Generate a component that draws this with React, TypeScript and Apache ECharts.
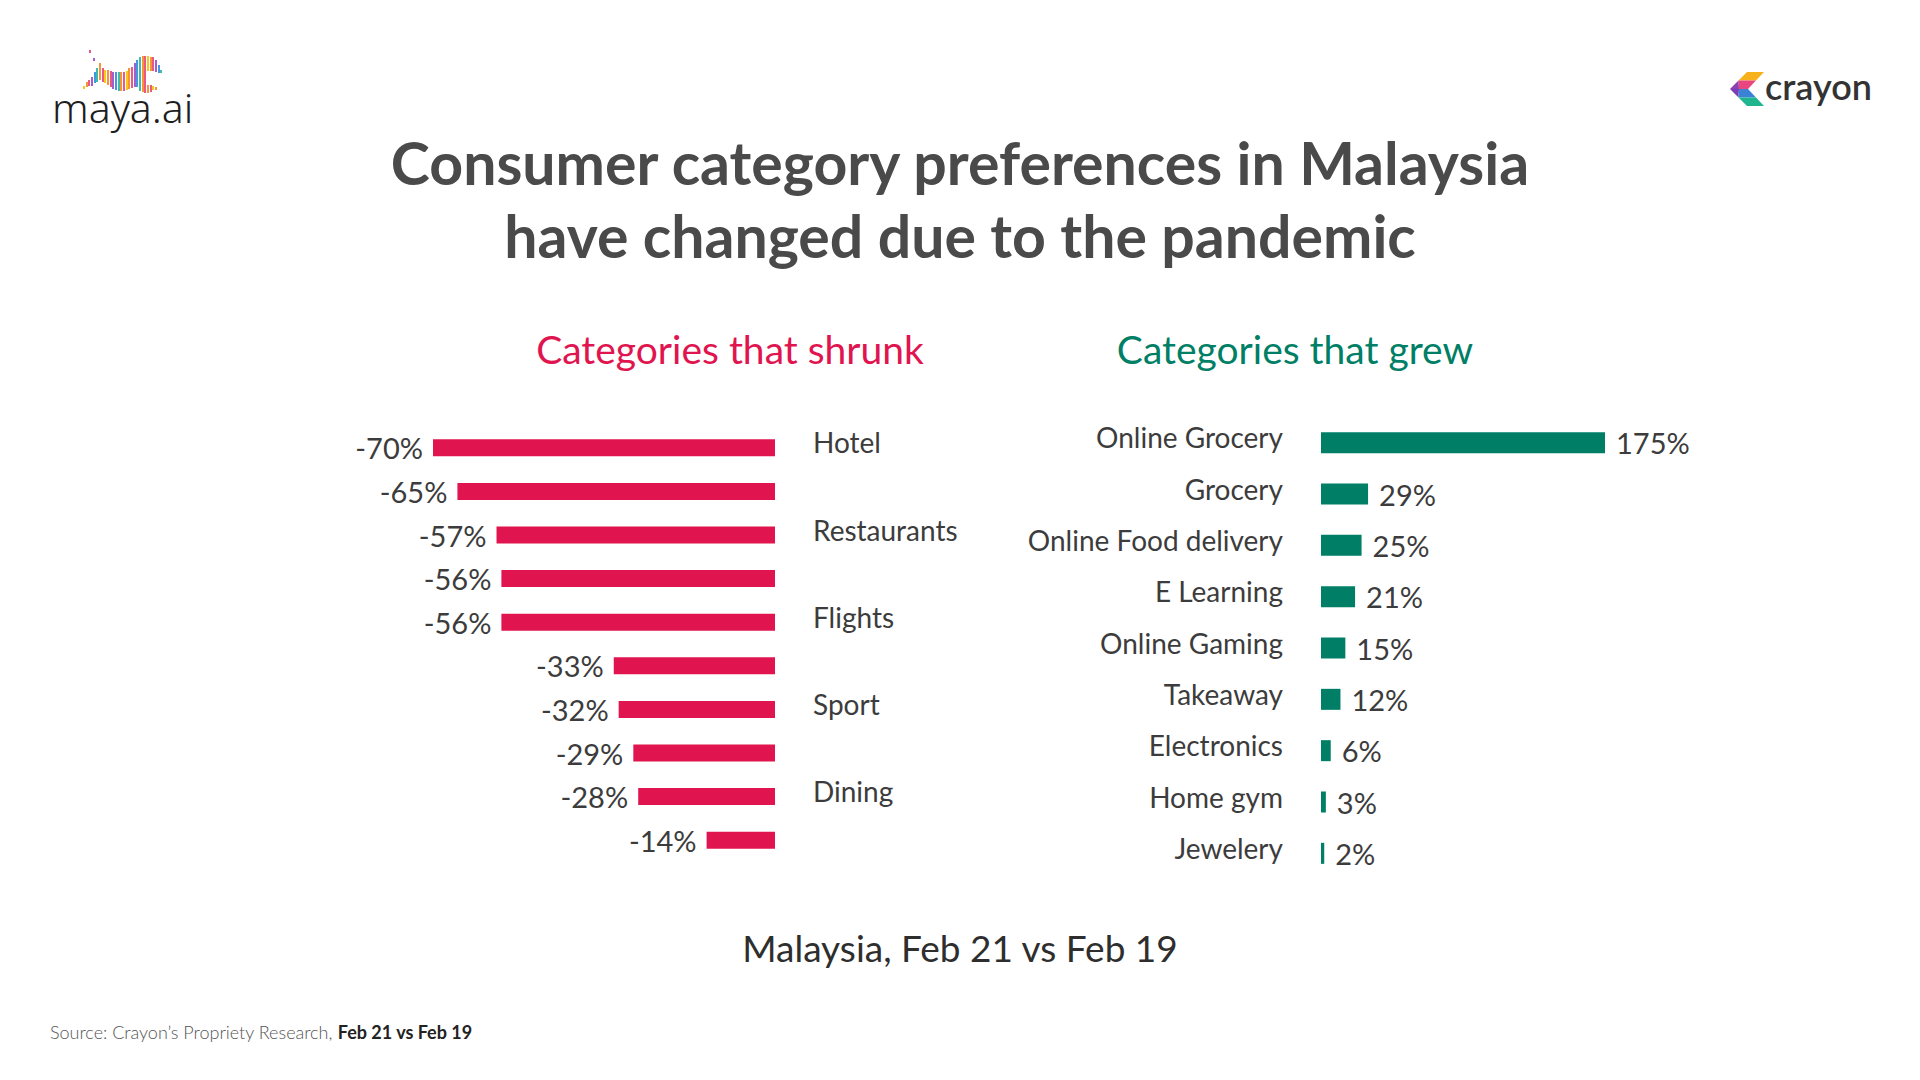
import React, { useEffect, useRef } from "react";
import * as echarts from "echarts";

// ---- data ----
const shrunkCategories = ["Hotel", "", "Restaurants", "", "Flights", "", "Sport", "", "Dining", ""];
const shrunkValues = [-70, -65, -57, -56, -56, -33, -32, -29, -28, -14];

const grewCategories = [
  "Online Grocery",
  "Grocery",
  "Online Food delivery",
  "E Learning",
  "Online Gaming",
  "Takeaway",
  "Electronics",
  "Home gym",
  "Jewelery",
];
const grewValues = [175, 29, 25, 21, 15, 12, 6, 3, 2];

const titleText = "Consumer category preferences in Malaysia\nhave changed due to the pandemic";
const shrunkTitle = "Categories that shrunk";
const grewTitle = "Categories that grew";
const footerText = "Malaysia, Feb 21 vs Feb 19";
const sourceLead = "Source: Crayon\u2019s Propriety Research, ";
const sourceBold = "Feb 21 vs Feb 19";

// maya.ai logo waveform strokes: [x, top, bottom]
const waveStrokes: [number, number, number][] = [
  [84, 86, 89], [87, 82, 87], [89, 80, 86], [92, 77, 86], [95, 72, 83],
  [97, 68, 82], [100, 63, 80], [103, 68, 82], [105, 70, 83], [108, 70, 85],
  [111, 71, 87], [113, 72, 89], [116, 72, 90], [119, 72, 91], [121, 72, 91],
  [124, 72, 91], [127, 71, 90], [129, 68, 89], [132, 67, 88], [135, 63, 87],
  [137, 60, 87], [140, 57, 91], [143, 56, 92], [145, 56, 93],
  [148, 56, 71], [151, 57, 71], [153, 57, 71], [156, 60, 72], [159, 65, 73], [161, 70, 73],
  [148, 85, 93], [151, 85, 92], [153, 86, 90], [156, 87, 90],
  [90, 50, 53], [94, 58, 61],
];
const waveColors = ["#f5c400", "#f58a1f", "#e8467c", "#9b4dca", "#2f8fd8", "#2bb3a3", "#f58a1f", "#e8467c"];

const FONT = "Lato, 'Open Sans', sans-serif";
const RED = "#e0154f";
const GREEN = "#007f66";
const TEXT = "#3c3c3c";

export default function App() {
  const ref = useRef<HTMLDivElement>(null);

  useEffect(() => {
    if (!ref.current) return;
    const chart = echarts.init(ref.current, undefined, { renderer: "svg" });

    const waveEls = waveStrokes.map((s, i) => ({
      type: "line",
      shape: { x1: s[0], y1: s[1], x2: s[0], y2: s[2] },
      style: { stroke: waveColors[i % waveColors.length], lineWidth: 1.8 },
      silent: true,
    }));

    const chevron = [
      { pts: [[1747, 72], [1764, 72], [1756, 80.5], [1738.5, 80.5]], c: "#f7b21b" },
      { pts: [[1738.5, 80.5], [1756, 80.5], [1748, 89], [1739, 89]], c: "#e9457e" },
      { pts: [[1730, 89], [1738.5, 80.5], [1739, 89]], c: "#8e3fb0" },
      { pts: [[1730, 89], [1739, 89], [1738.5, 97.5]], c: "#7a3fb8" },
      { pts: [[1739, 89], [1748, 89], [1756, 97.5], [1738.5, 97.5]], c: "#3b82d6" },
      { pts: [[1738.5, 97.5], [1756, 97.5], [1764, 106], [1747, 106]], c: "#1fb58f" },
    ].map((p) => ({
      type: "polygon",
      shape: { points: p.pts },
      style: { fill: p.c },
      silent: true,
    }));

    const catLabel = {
      interval: 0,
      margin: 38,
      fontSize: 28,
      color: TEXT,
      fontFamily: FONT,
      verticalAlign: "bottom",
      lineHeight: 11,
    };

    const option: any = {
      animation: false,
      backgroundColor: "#ffffff",
      textStyle: { fontFamily: FONT },
      graphic: [
        ...waveEls,
        {
          type: "text",
          x: 52,
          y: 107,
          style: {
            text: "maya.ai",
            fill: "#1e1e1e",
            fontSize: 41,
            fontFamily: "'Noto Sans', Lato, sans-serif",
            fontWeight: 300,
            verticalAlign: "middle",
            align: "left",
          },
        },
        ...chevron,
        {
          type: "text",
          x: 1765,
          y: 86,
          style: {
            text: "crayon",
            fill: "#333333",
            fontSize: 36,
            fontFamily: FONT,
            fontWeight: 600,
            verticalAlign: "middle",
            align: "left",
          },
        },
        {
          type: "text",
          x: 960,
          y: 199,
          style: {
            text: titleText,
            fill: "#4a4a4a",
            fontSize: 59,
            lineHeight: 73,
            fontFamily: FONT,
            fontWeight: "bold",
            align: "center",
            verticalAlign: "middle",
          },
        },
        {
          type: "text",
          x: 730,
          y: 349,
          style: {
            text: shrunkTitle,
            fill: RED,
            fontSize: 39,
            fontFamily: FONT,
            align: "center",
            verticalAlign: "middle",
          },
        },
        {
          type: "text",
          x: 1295,
          y: 349,
          style: {
            text: grewTitle,
            fill: GREEN,
            fontSize: 39,
            fontFamily: FONT,
            align: "center",
            verticalAlign: "middle",
          },
        },
        {
          type: "text",
          x: 960,
          y: 947,
          style: {
            text: footerText,
            fill: "#2e2e2e",
            fontSize: 37,
            fontFamily: FONT,
            align: "center",
            verticalAlign: "middle",
          },
        },
        {
          type: "text",
          x: 50,
          y: 1032,
          style: {
            text: "{a|" + sourceLead + "}{b|" + sourceBold + "}",
            verticalAlign: "middle",
            align: "left",
            rich: {
              a: { fontSize: 18, fontFamily: FONT, fontWeight: 300, fill: "#555555", color: "#555555" },
              b: { fontSize: 18, fontFamily: FONT, fontWeight: "bold", fill: "#222222", color: "#222222" },
            },
          },
        },
      ],
      grid: [
        { left: 433, right: 1145, top: 426, height: 436, containLabel: false },
        { left: 1321, right: 315, top: 417, height: 462, containLabel: false },
      ],
      xAxis: [
        { type: "value", gridIndex: 0, min: -70, max: 0, show: false },
        { type: "value", gridIndex: 1, min: 0, max: 175, show: false },
      ],
      yAxis: [
        {
          type: "category",
          gridIndex: 0,
          data: shrunkCategories,
          inverse: true,
          position: "right",
          axisLine: { show: false },
          axisTick: { show: false },
          splitLine: { show: false },
          axisLabel: { ...catLabel, align: "left" },
        },
        {
          type: "category",
          gridIndex: 1,
          data: grewCategories,
          inverse: true,
          position: "left",
          axisLine: { show: false },
          axisTick: { show: false },
          splitLine: { show: false },
          axisLabel: { ...catLabel, align: "right" },
        },
      ],
      series: [
        {
          type: "bar",
          xAxisIndex: 0,
          yAxisIndex: 0,
          data: shrunkValues,
          barWidth: 17,
          itemStyle: { color: RED },
          label: {
            show: true,
            position: "left",
            distance: 10,
            formatter: "{c}%",
            fontSize: 29,
            color: TEXT,
            fontFamily: FONT,
          },
        },
        {
          type: "bar",
          xAxisIndex: 1,
          yAxisIndex: 1,
          data: grewValues,
          barWidth: 21,
          itemStyle: { color: GREEN },
          label: {
            show: true,
            position: "right",
            distance: 11,
            formatter: "{c}%",
            fontSize: 29,
            color: TEXT,
            fontFamily: FONT,
          },
        },
      ],
    };

    chart.setOption(option);
    const onResize = () => chart.resize();
    window.addEventListener("resize", onResize);
    return () => {
      window.removeEventListener("resize", onResize);
      chart.dispose();
    };
  }, []);

  return (
    <div
      ref={ref}
      style={{ position: "fixed", left: 0, top: 0, width: 1920, height: 1080, background: "#fff" }}
    />
  );
}
